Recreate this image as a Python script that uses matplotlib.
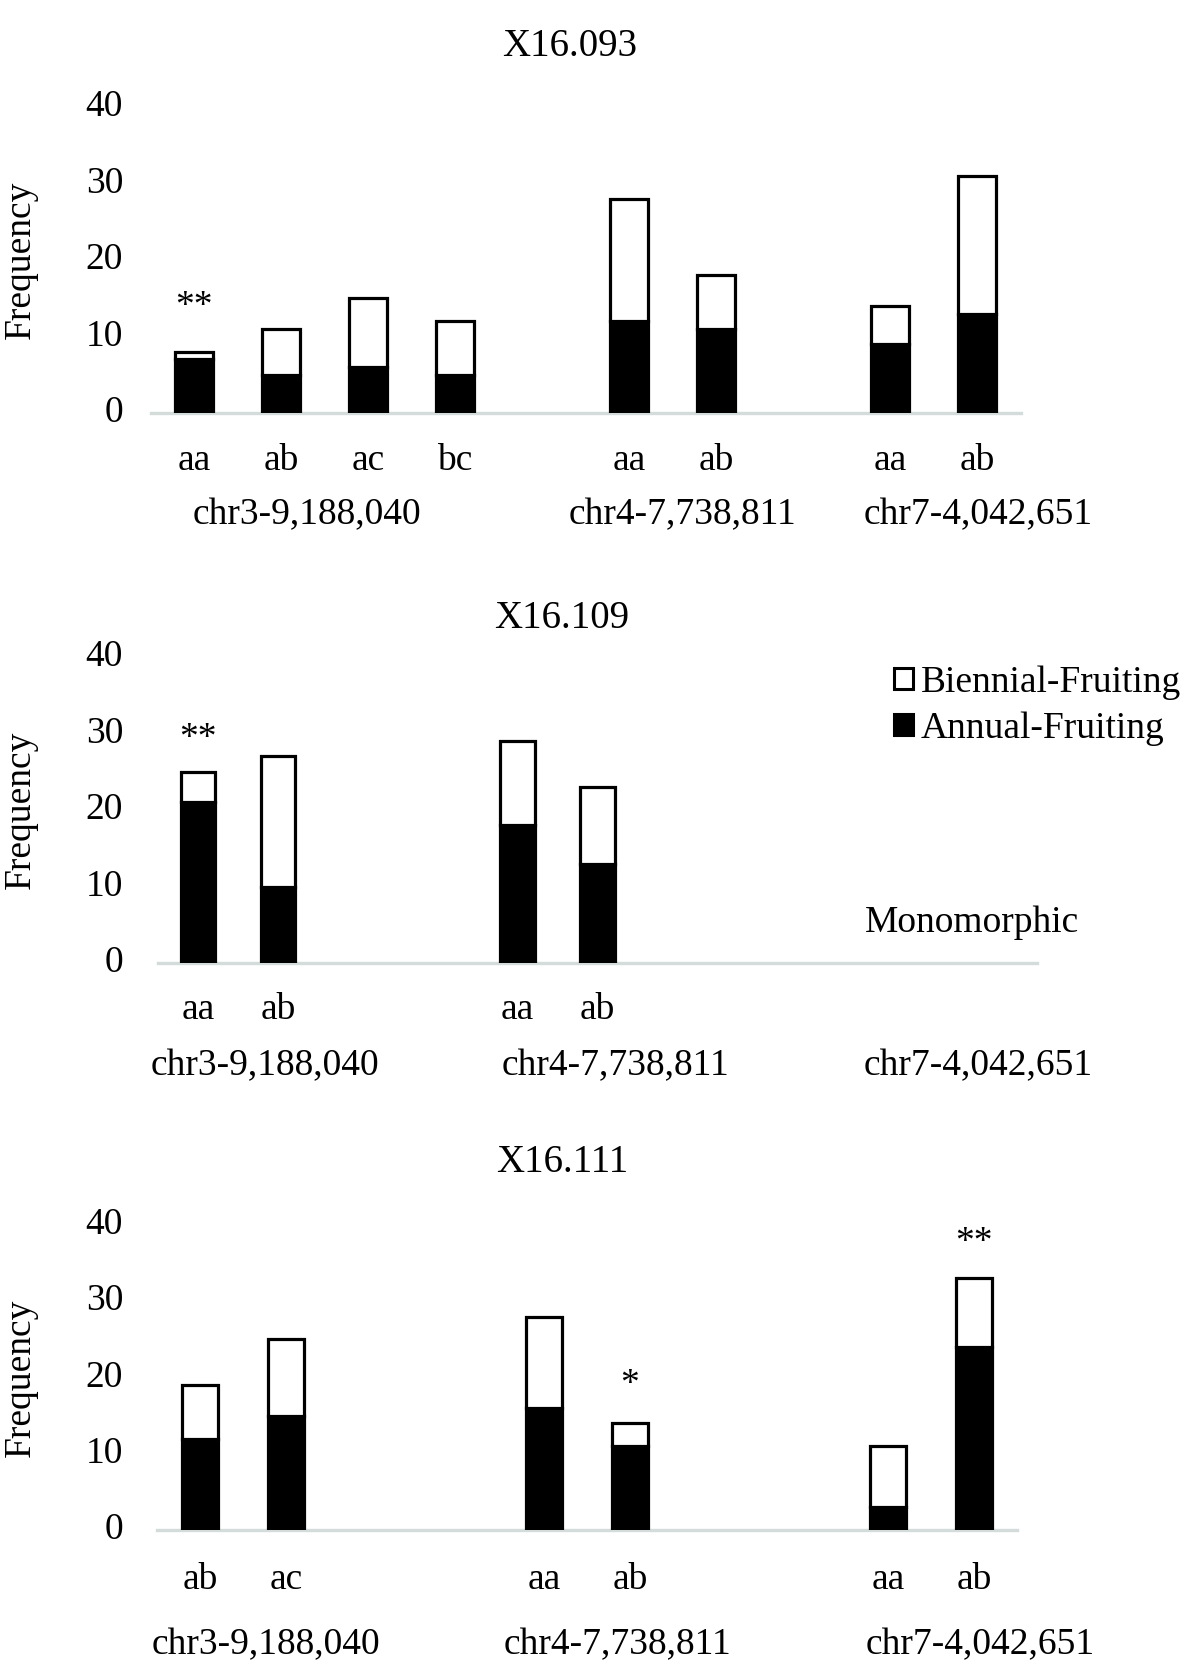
import matplotlib
matplotlib.use('Agg')
import matplotlib.pyplot as plt
from matplotlib.patches import Patch

plt.rcParams['font.family'] = ['Liberation Serif', 'DejaVu Serif']

# ---------------- data ----------------
markers = ['chr3-9,188,040', 'chr4-7,738,811', 'chr7-4,042,651']
titles = ['X16.093', 'X16.109', 'X16.111']
series_names = ['Biennial-Fruiting', 'Annual-Fruiting']

# X16.093
geno_093 = [['aa', 'ab', 'ac', 'bc'], ['aa', 'ab'], ['aa', 'ab']]
annual_093 = [[7, 5, 6, 5], [12, 11], [9, 13]]
biennial_093 = [[1, 6, 9, 7], [16, 7], [5, 18]]
stars_093 = [(0, 0, '**', 14.6)]           # (marker, genotype, label, level)

# X16.109  (chr7 monomorphic)
geno_109 = [['aa', 'ab'], ['aa', 'ab'], []]
annual_109 = [[21, 10], [18, 13], []]
biennial_109 = [[4, 17], [11, 10], []]
stars_109 = [(0, 0, '**', 30.1)]
note_109 = 'Monomorphic'

# X16.111
geno_111 = [['ab', 'ac'], ['aa', 'ab'], ['aa', 'ab']]
annual_111 = [[12, 15], [16, 11], [3, 24]]
biennial_111 = [[7, 10], [12, 3], [8, 9]]
stars_111 = [(1, 1, '*', 19.8), (2, 1, '**', 38.4)]

yticks = [0, 10, 20, 30, 40]

# ---------------- layout (pixels) ----------------
W, H, DPI = 1181, 1666, 100
FS = 27
FT = 28
panels = [
    dict(title=titles[0], geno=geno_093, annual=annual_093, biennial=biennial_093,
         stars=stars_093, left=150.5, right=1020.5, y0=413, y40=107, nslots=10, gap=1,
         title_xy=(570, 46), grp_x=[1.30, 5.61, 9.01], cat_dy=48, grp_dy=102),
    dict(title=titles[1], geno=geno_109, annual=annual_109, biennial=biennial_109,
         stars=stars_109, left=158, right=1037, y0=963, y40=657, nslots=11, gap=2,
         title_xy=(562, 619), grp_x=[0.84, 5.23, 9.76], cat_dy=47, grp_dy=103),
    dict(title=titles[2], geno=geno_111, annual=annual_111, biennial=biennial_111,
         stars=stars_111, left=157, right=1017, y0=1530, y40=1225, nslots=10, gap=2,
         title_xy=(562, 1163), grp_x=[0.77, 4.86, 9.07], cat_dy=50, grp_dy=115),
]

fig = plt.figure(figsize=(W / DPI, H / DPI), dpi=DPI)
pt = 72.0 / DPI

for p in panels:
    ax = fig.add_axes([p['left'] / W, 1 - p['y0'] / H,
                       (p['right'] - p['left']) / W, (p['y0'] - p['y40']) / H])
    # positions from group structure
    pos_groups = []
    start = 0
    for g in p['geno']:
        pos_groups.append([start + i for i in range(len(g))])
        start += len(g) + p['gap']
    xs, labs, ann, bie = [], [], [], []
    for gi, g in enumerate(p['geno']):
        xs += pos_groups[gi]
        labs += g
        ann += p['annual'][gi]
        bie += p['biennial'][gi]
    ax.bar(xs, ann, width=0.43, color='black', edgecolor='black', linewidth=2.3, zorder=3)
    ax.bar(xs, bie, bottom=ann, width=0.43, color='white', edgecolor='black',
           linewidth=2.3, zorder=3)
    ax.set_xlim(-0.5, p['nslots'] - 0.5)
    ax.set_ylim(0, 40)
    ax.set_yticks(yticks)
    ax.set_yticklabels([str(v) for v in yticks], fontsize=FS, va='center')
    ax.tick_params(axis='y', length=0, pad=(p['left'] - 123) * pt)
    ax.set_xticks([])
    for s in ['top', 'right', 'left']:
        ax.spines[s].set_visible(False)
    ax.spines['bottom'].set_color('#D3DCDA')
    ax.spines['bottom'].set_linewidth(2.4)
    ax.spines['bottom'].set_zorder(2)
    # genotype labels
    for x, lab in zip(xs, labs):
        ax.annotate(lab, xy=(x, 0), xycoords=('data', 'axes fraction'),
                    xytext=(0, -p['cat_dy'] * pt), textcoords='offset points',
                    ha='center', va='center', fontsize=FS)
    # marker labels
    for gx, m in zip(p['grp_x'], markers):
        ax.annotate(m, xy=(gx, 0), xycoords=('data', 'axes fraction'),
                    xytext=(0, -p['grp_dy'] * pt), textcoords='offset points',
                    ha='center', va='center', fontsize=FS)
    # significance stars
    for gi, ii, lab, lvl in p['stars']:
        ax.annotate(lab, xy=(pos_groups[gi][ii], lvl), xytext=(0, -15 * pt),
                    textcoords='offset points', ha='center', va='baseline', fontsize=FS)
    # title and y label
    fig.text(p['title_xy'][0] / W, 1 - p['title_xy'][1] / H, p['title'],
             ha='center', va='center', fontsize=FT)
    fig.text(21 / W, 1 - (p['y0'] + p['y40']) / 2 / H, 'Frequency', rotation=90,
             ha='center', va='center', fontsize=FS)
    if p['title'] == titles[1]:
        ax.annotate(note_109, xy=(9.69, 5.2), ha='center', va='center', fontsize=FS)

handles = [Patch(facecolor='white', edgecolor='black', linewidth=2.2),
           Patch(facecolor='black', edgecolor='black', linewidth=2.2)]
fig.legend(handles, series_names, loc='upper left', bbox_to_anchor=(894 / W, 1 - 665 / H),
           frameon=False, fontsize=FS, handlelength=0.5, handleheight=0.5,
           handletextpad=0.22, labelspacing=0.32, borderpad=0, borderaxespad=0)

fig.savefig('out.png', dpi=DPI, facecolor='white')
